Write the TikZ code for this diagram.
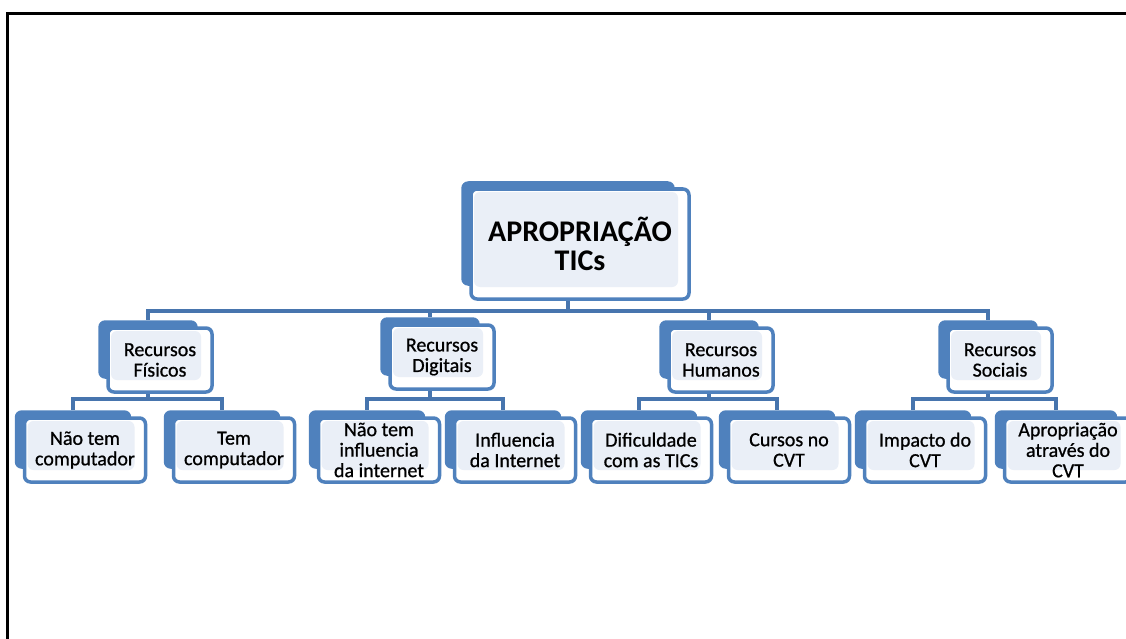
\documentclass[tikz,border=0pt]{standalone}
\usepackage{fontspec}
\setmainfont{Carlito}
\newfontfamily\caixafont{Carlito}[FakeBold=0.8]
\usetikzlibrary{backgrounds}
\definecolor{azul}{HTML}{4F81BD}
\definecolor{azulesc}{HTML}{4775AE}
\definecolor{claro}{HTML}{EAEFF7}

\begin{document}
\begin{tikzpicture}[x=1pt,y=-1pt,
    caixa/.style={rectangle,draw=azul,line width=3.5pt,rounded corners=6pt,fill=white,
        inner sep=0pt,align=center,minimum width=121pt,minimum height=64pt,
        font=\caixafont\fontsize{20}{20.5}\selectfont,
        path picture={\fill[claro] ([shift={(3,3)}]path picture bounding box.north west)
            rectangle ([shift={(-11,-12)}]path picture bounding box.south east);}},
    recurso/.style={minimum width=104pt},
    titulo/.style={minimum width=218pt,minimum height=110pt,font=\fontsize{30}{29}\selectfont\bfseries},
    conector/.style={draw=azulesc,line width=4pt}]
    \useasboundingbox (0,0) rectangle (1126,639);
    \clip (0,0) rectangle (1126,639);
    \draw[line width=3pt] (7,660) -- (7,14) -- (1140,14);

    \node[caixa,titulo] (apr) at (580,244) {APROPRIAÇÃO\\TICs};

    \node[caixa,recurso] (fis) at (160,360) {Recursos\\Físicos};
    \node[caixa,recurso] (dig) at (442,357) {Recursos\\Digitais};
    \node[caixa,recurso] (hum) at (721,360) {Recursos\\Humanos};
    \node[caixa,recurso] (soc) at (1000,360) {Recursos\\Sociais};

    \node[caixa] (nao) at (85,450) {Não tem\\computador};
    \node[caixa] (tem) at (234,450) {Tem\\computador};
    \node[caixa] (nti) at (379,450) {Não tem\\influencia\\da internet};
    \node[caixa] (inf) at (515,450) {Influencia\\da Internet};
    \node[caixa] (dif) at (651,450) {Dificuldade\\com as TICs};
    \node[caixa] (cur) at (789,450) {Cursos no\\CVT};
    \node[caixa] (imp) at (925,450) {Impacto do\\CVT};
    \node[caixa,minimum width=127pt] (apt) at (1068,450) {Apropriação\\através do\\CVT};

    % pontos de ligacao no bloco de tras
    \foreach \n in {apr,fis,dig,hum,soc,nao,tem,nti,inf,dif,cur,imp,apt}{
        \coordinate (\n-t) at ([shift={(-12,-6)}]\n.north);
        \coordinate (\n-b) at ([shift={(-12,-15)}]\n.south);
    }
    \coordinate (barra) at ([shift={(0,25)}]apr-b);

    \begin{scope}[on background layer]
        \foreach \n in {apr,fis,dig,hum,soc,nao,tem,nti,inf,dif,cur,imp,apt}
            \fill[azul,rounded corners=7pt] ([shift={(-8,-6)}]\n.north west) rectangle ([shift={(-16,-15)}]\n.south east);
        \foreach \c in {fis,dig,hum,soc}
            \draw[conector] (apr-b) -- (barra) -| (\c-t);
        \foreach \p/\c in {fis/nao,fis/tem,dig/nti,dig/inf,hum/dif,hum/cur,soc/imp,soc/apt}
            \draw[conector] (\p-b) |- ([shift={(0,-11)}]\c-t) -- (\c-t);
    \end{scope}
\end{tikzpicture}
\end{document}
